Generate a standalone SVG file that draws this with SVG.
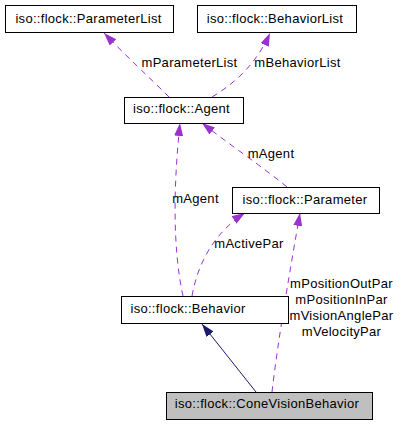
<svg xmlns="http://www.w3.org/2000/svg" width="416" height="424" viewBox="0 0 416 424">
<style>
text{font-family:"Liberation Sans",Arial,sans-serif;font-size:13px;letter-spacing:0.3px;fill:#000}
.box rect{fill:#fff;stroke:#000;stroke-width:1}
.box text{text-anchor:middle}
.use{fill:none;stroke:#9a32cd;stroke-width:1;stroke-dasharray:6,5}
.inh{fill:none;stroke:#191970;stroke-width:1}
.lbl{text-anchor:middle}
</style>
<defs>
<marker id="ap" markerUnits="userSpaceOnUse" markerWidth="14" markerHeight="10" refX="13" refY="4.5" orient="auto">
<path d="M0,0 L13,4.5 L0,9 z" fill="#9a32cd" stroke="none"/>
</marker>
<marker id="an" markerUnits="userSpaceOnUse" markerWidth="14" markerHeight="10" refX="13" refY="4.5" orient="auto">
<path d="M0,0 L13,4.5 L0,9 z" fill="#191970" stroke="none"/>
</marker>
</defs>
<rect width="416" height="424" fill="#fff"/>
<g id="connectors">
<path class="use" d="M169,97 C150,78 125,55 104,33" marker-end="url(#ap)"/>
<path class="use" d="M212,97 C240,80 258,60 270,33" marker-end="url(#ap)"/>
<path class="use" d="M183,296 C173,250 173,190 180,123" marker-end="url(#ap)"/>
<path class="use" d="M287,187 C260,165 230,145 202,123" marker-end="url(#ap)"/>
<path class="use" d="M192,296 C198,262 215,232 245,213" marker-end="url(#ap)"/>
<path class="use" d="M272,392 C278,340 290,270 300,213" marker-end="url(#ap)"/>
<path class="inh" d="M256,392 L202,324" marker-end="url(#an)"/>
<text class="lbl" x="189.5" y="67">mParameterList</text>
<text class="lbl" x="297.5" y="67">mBehaviorList</text>
<text class="lbl" x="271" y="158">mAgent</text>
<text class="lbl" x="195.5" y="203">mAgent</text>
<text class="lbl" x="249" y="248">mActivePar</text>
<text class="lbl" x="341.5" y="288">mPositionOutPar</text>
<text class="lbl" x="341.5" y="304">mPositionInPar</text>
<text class="lbl" x="341.5" y="320">mVisionAnglePar</text>
<text class="lbl" x="341.5" y="336">mVelocityPar</text>
</g>
<g id="ParameterList" class="box"><rect x="5.5" y="5.5" width="168" height="27"/><text x="88.5" y="23">iso::flock::ParameterList</text></g>
<g id="BehaviorList" class="box"><rect x="197.5" y="5.5" width="159" height="27"/><text x="275" y="23">iso::flock::BehaviorList</text></g>
<g id="Agent" class="box"><rect x="124.5" y="97.5" width="119" height="26"/><text x="181.5" y="113">iso::flock::Agent</text></g>
<g id="Parameter" class="box"><rect x="232.5" y="187.5" width="147" height="26"/><text x="305" y="204">iso::flock::Parameter</text></g>
<g id="Behavior" class="box"><rect x="121.5" y="296.5" width="167" height="27"/><text x="188" y="313">iso::flock::Behavior</text></g>
<g id="ConeVisionBehavior" class="box"><rect x="166.5" y="392.5" width="206" height="27" style="fill:#bfbfbf"/><text x="267" y="408">iso::flock::ConeVisionBehavior</text></g>
</svg>
